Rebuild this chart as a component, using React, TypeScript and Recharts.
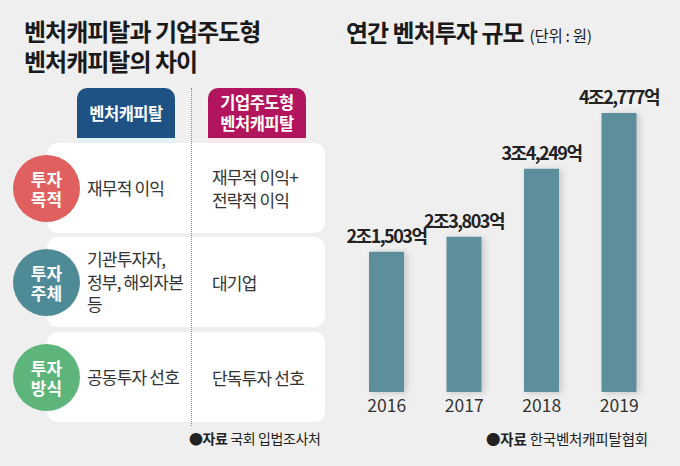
import React from 'react';
import { BarChart, Bar, XAxis, YAxis, LabelList } from 'recharts';

const years = ['2016', '2017', '2018', '2019'];
const investment = [21503, 23803, 34249, 42777]; // 억 원
const chartTitle = '연간 벤처투자 규모';
const chartUnit = '(단위 : 원)';
const chartSource = '한국벤처캐피탈협회';

const tableTitle = ['벤처캐피탈과 기업주도형', '벤처캐피탈의 차이'];
const colHeaders = [['벤처캐피탈'], ['기업주도형', '벤처캐피탈']];
const rowLabels = [['투자', '목적'], ['투자', '주체'], ['투자', '방식']];
const vcItems = [['재무적 이익'], ['기관투자자,', '정부, 해외자본', '등'], ['공동투자 선호']];
const cvcItems = [['재무적 이익+', '전략적 이익'], ['대기업'], ['단독투자 선호']];
const tableSource = '국회 입법조사처';

const data = years.map((y, i) => ({ year: y, value: investment[i] }));

const FONT = '"Noto Sans CJK KR", "Noto Sans", sans-serif';
const circleColors = ['#e0605f', '#4f8b96', '#5db57b'];
const rowTops = [143, 237, 332];

const fmt = (v: number) => `${Math.floor(v / 10000)}조${(v % 10000).toLocaleString('en-US')}억`;

const ValueLabel = (props: any) => {
  const { x, y, width, value } = props;
  return (
    <text
      x={x + width / 2}
      y={y - 9}
      textAnchor="middle"
      fontSize={18}
      fontWeight={700}
      letterSpacing={-1.5}
      fill="#222"
      fontFamily={FONT}
    >
      {fmt(value)}
    </text>
  );
};

export default function App() {
  return (
    <div
      style={{
        position: 'absolute',
        left: 0,
        top: 0,
        width: 680,
        height: 466,
        background: '#efefef',
        fontFamily: FONT,
        overflow: 'hidden',
      }}
    >
      <div style={{ position: 'absolute', left: 0, top: 0 }}>
        <BarChart
          width={680}
          height={466}
          data={data}
          margin={{ top: 66, right: 22, bottom: 44, left: 348 }}
        >
          <defs>
            <filter id="barShadow" x="-30%" y="-10%" width="160%" height="120%">
              <feDropShadow dx="3" dy="1" stdDeviation="3" floodColor="#000" floodOpacity="0.16" />
            </filter>
          </defs>
          <XAxis
            dataKey="year"
            axisLine={false}
            tickLine={false}
            tick={{ fontSize: 17.5, fill: '#333', fontFamily: FONT }}
          />
          <YAxis hide domain={[0, 50000]} />
          <Bar
            dataKey="value"
            fill="#5b8f9b"
            barSize={35}
            isAnimationActive={false}
            style={{ filter: 'url(#barShadow)' }}
          >
            <LabelList dataKey="value" content={<ValueLabel />} />
          </Bar>
        </BarChart>
      </div>

      {/* Right title */}
      <div
        style={{
          position: 'absolute',
          left: 346,
          top: 16,
          lineHeight: '32px',
          fontSize: 24,
          fontWeight: 700,
          color: '#1a1a1a',
          letterSpacing: -1,
          whiteSpace: 'nowrap',
        }}
      >
        {chartTitle}
        <span style={{ fontSize: 15.5, fontWeight: 400, marginLeft: 6, letterSpacing: -0.3 }}>{chartUnit}</span>
      </div>

      {/* Left title */}
      <div
        style={{
          position: 'absolute',
          left: 24,
          top: 16,
          lineHeight: '30px',
          fontSize: 24,
          fontWeight: 700,
          color: '#1a1a1a',
          letterSpacing: -1,
          whiteSpace: 'pre',
        }}
      >
        {tableTitle.join('\n')}
      </div>

      {/* Dotted divider */}
      <div
        style={{
          position: 'absolute',
          left: 191,
          top: 88,
          height: 338,
          width: 0,
          borderLeft: '1px dotted #8a8a8a',
          zIndex: 3,
        }}
      />

      {/* Column headers */}
      {colHeaders.map((lines, i) => (
        <div key={i}>
          <div
            style={{
              position: 'absolute',
              left: i === 0 ? 77 : 208,
              top: 88,
              width: 98,
              height: 50,
              background: i === 0 ? '#1e5184' : '#b1155e',
              borderRadius: '10px 10px 0 0',
              color: '#fff',
              fontWeight: 700,
              fontSize: 16.5,
              lineHeight: '21px',
              letterSpacing: -0.5,
              display: 'flex',
              alignItems: 'center',
              justifyContent: 'center',
              textAlign: 'center',
              whiteSpace: 'pre',
            }}
          >
            {lines.join('\n')}
          </div>
          <div
            style={{
              position: 'absolute',
              left: i === 0 ? 77 : 208,
              top: 138,
              width: 98,
              height: 5,
              background: i === 0 ? '#e4f2f7' : '#fae6ef',
            }}
          />
        </div>
      ))}

      {/* Rows */}
      {rowLabels.map((lbl, i) => (
        <div key={i}>
          <div
            style={{
              position: 'absolute',
              left: 47,
              top: rowTops[i],
              width: 278,
              height: 90,
              background: '#ffffff',
              borderRadius: 11,
            }}
          />
          <div
            style={{
              position: 'absolute',
              left: 13,
              top: rowTops[i] + 12,
              width: 67,
              height: 67,
              borderRadius: '50%',
              background: circleColors[i],
              color: '#fff',
              fontWeight: 700,
              fontSize: 17,
              lineHeight: '19.5px',
              display: 'flex',
              alignItems: 'center',
              justifyContent: 'center',
              textAlign: 'center',
              whiteSpace: 'pre',
              zIndex: 2,
            }}
          >
            {lbl.join('\n')}
          </div>
          <div
            style={{
              position: 'absolute',
              left: 87,
              top: rowTops[i],
              width: 100,
              height: 90,
              color: '#333',
              fontSize: 17,
              lineHeight: '22.5px',
              letterSpacing: -0.8,
              display: 'flex',
              alignItems: 'center',
              whiteSpace: 'pre',
              zIndex: 2,
            }}
          >
            {vcItems[i].join('\n')}
          </div>
          <div
            style={{
              position: 'absolute',
              left: 212,
              top: rowTops[i],
              width: 110,
              height: 90,
              color: '#333',
              fontSize: 17,
              lineHeight: '23px',
              letterSpacing: -0.8,
              display: 'flex',
              alignItems: 'center',
              whiteSpace: 'pre',
              zIndex: 2,
            }}
          >
            {cvcItems[i].join('\n')}
          </div>
        </div>
      ))}

      {/* Sources */}
      <div
        style={{
          position: 'absolute',
          left: 189,
          top: 428,
          fontSize: 14,
          lineHeight: '20px',
          color: '#222',
          letterSpacing: -0.4,
          whiteSpace: 'nowrap',
        }}
      >
        ●<b>자료</b> {tableSource}
      </div>
      <div
        style={{
          position: 'absolute',
          left: 486,
          top: 429,
          fontSize: 14.5,
          lineHeight: '20px',
          color: '#222',
          letterSpacing: -0.2,
          whiteSpace: 'nowrap',
        }}
      >
        ●<b>자료</b> {chartSource}
      </div>
    </div>
  );
}
